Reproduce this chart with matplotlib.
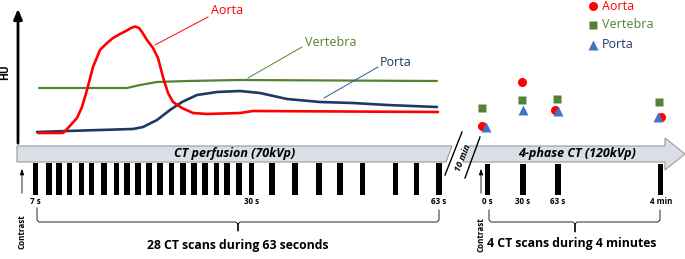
import matplotlib
matplotlib.use("Agg")
import matplotlib.pyplot as plt
from matplotlib.patches import Polygon

plt.rcParams['font.family'] = ['Open Sans', 'DejaVu Sans']

# ---------------- data (schematic coordinates: x = timeline position, y = depth from top) -------------
aorta_x = [38, 63, 68, 77, 82, 87, 93, 100, 107, 113, 120, 126, 131, 135, 139, 142, 147, 153, 158,
           163, 168, 173, 182, 193, 207, 240, 253, 438]
aorta_y = [133, 133, 128, 118, 107, 90, 67, 50, 43, 38, 34, 31, 28, 26.5, 28, 32, 40, 48, 58,
           77, 93, 102, 108, 113, 114, 113, 111, 112]
vert_x = [39, 127, 140, 157, 187, 240, 437]
vert_y = [88, 88, 85, 82, 81, 80, 81]
porta_x = [37, 67, 100, 133, 143, 157, 170, 182, 197, 217, 240, 260, 287, 320, 353, 387, 437]
porta_y = [132, 131, 130, 129, 127, 120, 110, 102, 95, 92, 91, 93, 99, 102, 103, 105, 107]

# 4-phase CT values
ph_aorta_x = [482, 522, 555, 661]
ph_aorta_y = [126, 82, 110, 117]
ph_vert_x = [482, 522, 557, 659]
ph_vert_y = [108, 100, 99, 102]
ph_porta_x = [486, 523, 558, 658]
ph_porta_y = [127, 110, 111, 117]

# scan positions
perf_scans = [35.7, 49, 59, 69.3, 81.7, 91.7, 104, 116.7, 127, 138, 149, 160, 171.7, 183,
              194, 205, 216.7, 227, 239, 251.7, 272, 295, 319, 340, 362.7, 395.7, 416.7, 439]
perf_labels = ["7 s", "30 s", "63 s"]
perf_label_pos = [35.7, 251.7, 439]
phase_scans = [487.7, 523, 558, 660.7]
phase_labels = ["0 s", "30 s", "63 s", "4 min"]

RED = "#ff0000"
GREEN = "#548235"
NAVY = "#1f3864"
BLUE = "#4472c4"

fig = plt.figure(figsize=(6.85, 2.59), dpi=100)
ax = fig.add_axes([0, 0, 1, 1])
ax.set_xlim(0, 685)
ax.set_ylim(259, 0)
ax.axis('off')

# HU axis
ax.annotate("", xy=(18, 6), xytext=(18, 146),
            arrowprops=dict(arrowstyle="-|>,head_width=0.25,head_length=0.6", color="black", lw=2))
ax.text(6, 72, "HU", rotation=90, ha="center", va="center", fontsize=7.5, fontweight="bold")

# curves
ax.plot(vert_x, vert_y, color=GREEN, lw=1.6, solid_capstyle="round", solid_joinstyle="round")
ax.plot(porta_x, porta_y, color=NAVY, lw=1.9, solid_capstyle="round", solid_joinstyle="round")
ax.plot(aorta_x, aorta_y, color=RED, lw=1.9, solid_capstyle="round", solid_joinstyle="round")

# curve labels with leader lines
ax.plot([155, 208], [45, 17], color=RED, lw=0.7)
ax.text(211, 11, "Aorta", color=RED, fontsize=9, ha="left", va="center")
ax.plot([248, 302], [78, 47], color=GREEN, lw=0.7)
ax.text(305, 42, "Vertebra", color=GREEN, fontsize=9, ha="left", va="center")
ax.plot([324, 378], [98, 67], color="#2f5597", lw=0.7)
ax.text(380, 62, "Porta", color=NAVY, fontsize=9, ha="left", va="center")

# 4-phase scatter
ax.plot(ph_vert_x, ph_vert_y, "s", color=GREEN, ms=5.8, mec="none")
ax.plot(ph_aorta_x, ph_aorta_y, "o", color=RED, ms=6.5, mec="none")
ax.plot(ph_porta_x, ph_porta_y, "^", color=BLUE, ms=6.8, mec="none")

# legend
ax.plot([593], [6], "o", color=RED, ms=6.5, mec="none")
ax.text(602, 6, "Aorta", color=RED, fontsize=9, va="center")
ax.plot([593], [25], "s", color=GREEN, ms=5.8, mec="none")
ax.text(602, 25, "Vertebra", color=GREEN, fontsize=9, va="center")
ax.plot([593], [45], "^", color=BLUE, ms=6.8, mec="none")
ax.text(602, 45, "Porta", color=NAVY, fontsize=9, va="center")

# timeline band
band_fc = "#d9dee7"
band_ec = "#9a9a9a"
left_band = Polygon([(17, 146), (452, 146), (446, 162), (17, 162)], closed=True,
                    fc=band_fc, ec=band_ec, lw=0.8)
ax.add_patch(left_band)
right_band = Polygon([(469, 146), (665, 146), (665, 138), (685, 154), (665, 170), (665, 162), (463, 162)],
                     closed=True, fc=band_fc, ec=band_ec, lw=0.8)
ax.add_patch(right_band)
ax.text(235, 154, "CT perfusion (70kVp)", fontsize=9, fontweight="bold", fontstyle="italic",
        ha="center", va="center")
ax.text(577, 154, "4-phase CT (120kVp)", fontsize=9, fontweight="bold", fontstyle="italic",
        ha="center", va="center")

# break slashes
ax.plot([445, 462], [175, 132], color="black", lw=1.0)
ax.plot([465, 480], [178, 137], color="black", lw=1.0)
ax.text(463, 158, "10 min", rotation=68, fontsize=6.5, fontweight="bold", fontstyle="italic",
        ha="center", va="center")

# scans
ax.bar(perf_scans, [32] * len(perf_scans), bottom=163, width=5.2, color="black")
ax.bar(phase_scans, [31] * len(phase_scans), bottom=164, width=5.2, color="black")
for p, lab in zip(perf_label_pos, perf_labels):
    ax.text(p, 201.5, lab, fontsize=5.8, fontweight="bold", ha="center", va="center")
for p, lab in zip(phase_scans, phase_labels):
    ax.text(p, 201.5, lab, fontsize=5.8, fontweight="bold", ha="center", va="center")

# contrast arrows
for cx, ty in [(22, 232), (481, 235)]:
    ax.annotate("", xy=(cx, 166), xytext=(cx, 196),
                arrowprops=dict(arrowstyle="-|>,head_width=0.12,head_length=0.35", color="black", lw=0.6))
    ax.text(cx, ty, "Contrast", rotation=90, fontsize=5.8, fontweight="bold", ha="center", va="center")


def brace(x0, x1, xm, y, ytop0, ytop1, tip):
    ax.plot([x0, x0, x0 + 2, xm - 2, xm, xm, xm, xm + 2, x1 - 2, x1, x1],
            [ytop0, y - 2, y, y, y + 2, tip, y + 2, y, y, y - 2, ytop1],
            color="black", lw=0.6, solid_joinstyle="round")


brace(37, 439, 238, 222, 208, 210, 231)
brace(489, 660, 575, 222, 210, 210, 232)
ax.text(238, 245, "28 CT scans during 63 seconds", fontsize=8.8, fontweight="bold",
        ha="center", va="center")
ax.text(572, 244, "4 CT scans during 4 minutes", fontsize=8.8, fontweight="bold",
        ha="center", va="center")

fig.savefig("out.png", dpi=100)
